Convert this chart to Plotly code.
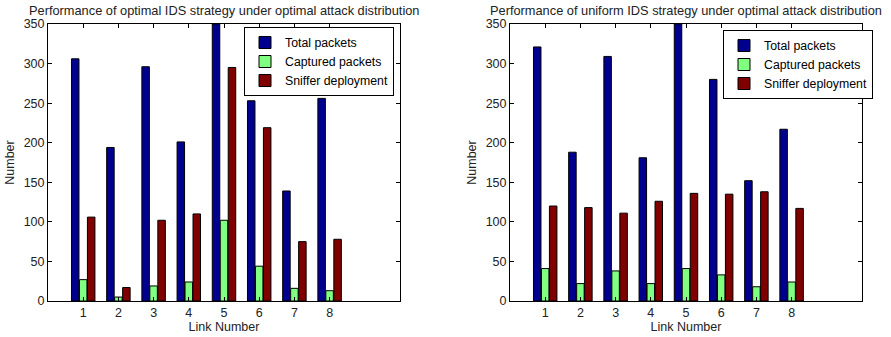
import plotly.graph_objects as go

links = [1, 2, 3, 4, 5, 6, 7, 8]
series_names = ["Total packets", "Captured packets", "Sniffer deployment"]

opt_total = [306, 194, 296, 201, 350, 253, 139, 256]
opt_captured = [27, 5, 19, 24, 102, 44, 16, 13]
opt_sniffer = [106, 17, 102, 110, 295, 219, 75, 78]

uni_total = [321, 188, 309, 181, 350, 280, 152, 217]
uni_captured = [41, 22, 38, 22, 41, 33, 18, 24]
uni_sniffer = [120, 118, 111, 126, 136, 135, 138, 117]

titles = ["Performance of optimal IDS strategy under optimal attack distribution",
          "Performance of uniform IDS strategy under optimal attack distribution"]
y_ticks = [0, 50, 100, 150, 200, 250, 300, 350]

colors = ["#00008F", "#80FF80", "#800000"]
FONT = "Liberation Sans, Arial, Helvetica, sans-serif"
W, H = 891, 337

fig = go.Figure()
panels = [(opt_total, opt_captured, opt_sniffer), (uni_total, uni_captured, uni_sniffer)]
for p, data in enumerate(panels):
    xa = "x" if p == 0 else "x2"
    ya = "y" if p == 0 else "y2"
    lg = "legend" if p == 0 else "legend2"
    for name, vals, col in zip(series_names, data, colors):
        fig.add_trace(go.Bar(
            x=links, y=vals, name=name, xaxis=xa, yaxis=ya, legend=lg,
            marker=dict(color=col, line=dict(color="black", width=1)),
            offsetgroup=name + str(p),
        ))

ytop = 1 - 24 / H
ybot = 1 - 301 / H
doms = [(48 / W, 400 / W), (510 / W, 862 / W)]

axis_common = dict(showline=True, linecolor="black", linewidth=1, mirror="ticks",
                   ticks="inside", ticklen=4, tickcolor="black", showgrid=False,
                   zeroline=False, automargin=False,
                   tickfont=dict(family=FONT, size=12.5, color="#222"))

layout = dict(
    width=W, height=H, margin=dict(l=0, r=0, t=0, b=0, autoexpand=False),
    plot_bgcolor="white", paper_bgcolor="white",
    barmode="group", bargap=0.32, bargroupgap=0.06,
    font=dict(family=FONT, size=12, color="#222"),
)
for p in range(2):
    sfx = "" if p == 0 else "2"
    layout["xaxis" + sfx] = dict(domain=list(doms[p]), range=[0, 10], tickvals=links,
                                 anchor="y" + sfx,
                                 title=dict(text="Link Number", standoff=0,
                                            font=dict(family=FONT, size=12.5, color="#222")),
                                 **axis_common)
    layout["yaxis" + sfx] = dict(domain=[ybot, ytop], range=[0, 350], tickvals=y_ticks,
                                 anchor="x" + sfx,
                                 title=dict(text="Number", standoff=6,
                                            font=dict(family=FONT, size=12.5, color="#222")),
                                 **axis_common)

legend_common = dict(bgcolor="white", bordercolor="black", borderwidth=1,
                     font=dict(family=FONT, size=12.3, color="black"),
                     xanchor="right", yanchor="top", tracegroupgap=0,
                     itemwidth=30)
layout["legend"] = dict(x=394 / W, y=1 - 27 / H, **legend_common)
layout["legend2"] = dict(x=873 / W, y=1 - 30 / H, **legend_common)

fig.update_layout(**layout)

for p in range(2):
    cx = (doms[p][0] + doms[p][1]) / 2
    fig.add_annotation(text=titles[p], x=cx, y=1 - 10 / H, xref="paper", yref="paper",
                       showarrow=False, xanchor="center", yanchor="middle",
                       font=dict(family=FONT, size=12.8, color="#222"))

fig.write_html("out.html", config={"displayModeBar": False},
               post_script="document.body.style.margin='0';")
